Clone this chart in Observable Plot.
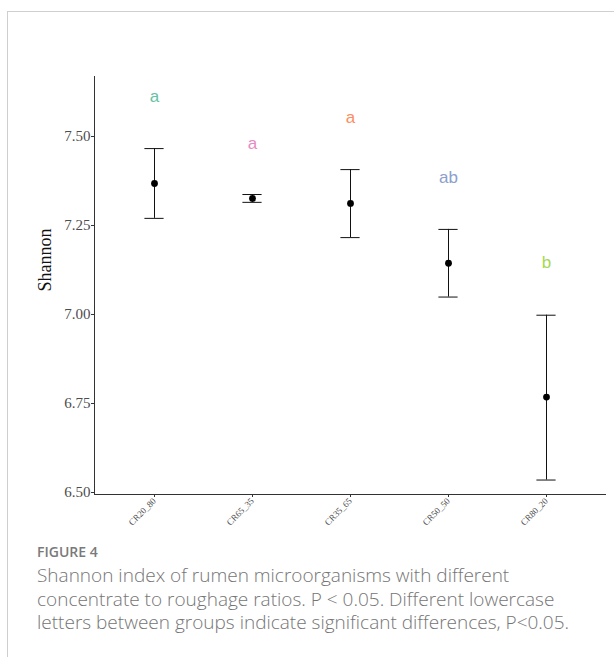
<!DOCTYPE html>
<html>
<head>
<meta charset="utf-8">
<script src="https://cdn.jsdelivr.net/npm/d3@7"></script>
<script src="https://cdn.jsdelivr.net/npm/@observablehq/plot@0.6"></script>
<style>
  html, body { margin: 0; padding: 0; background: #fff; width: 614px; height: 657px; overflow: hidden; }
  #frame { position: absolute; left: 7px; top: 11px; width: 640px; height: 680px;
           border-left: 1px solid #cfcfcf; border-top: 1px solid #cfcfcf; }
  #chart { position: absolute; left: 0; top: 0; }
  #caption { position: absolute; left: 37px; top: 542px; width: 550px;
             font-family: "Open Sans", "Noto Sans", sans-serif; color: #757575; }
  #caption .fig { font-size: 14px; font-weight: 600; color: #7a7a7a; margin-bottom: 3px; }
  #caption .txt { font-size: 19px; line-height: 23.5px; font-weight: 300; }
</style>
</head>
<body>
<div id="frame"></div>
<div id="chart"></div>
<div id="caption">
  <div class="fig">FIGURE 4</div>
  <div class="txt">Shannon index of rumen microorganisms with different concentrate to roughage ratios. P &lt; 0.05. Different lowercase letters between groups indicate significant differences, P&lt;0.05.</div>
</div>
<script>
const groups = ["CR20_80", "CR65_35", "CR35_65", "CR50_50", "CR80_20"];
const means  = [7.368, 7.326, 7.312, 7.144, 6.768];
const upper  = [7.466, 7.337, 7.407, 7.239, 6.998];
const lower  = [7.270, 7.315, 7.216, 7.049, 6.535];
const letters = ["a", "a", "a", "ab", "b"];
const letterY = [7.612, 7.481, 7.553, 7.386, 7.146];
const letterColors = ["#66C2A5", "#E78AC3", "#FC8D62", "#8DA0CB", "#A6D854"];
const yTicks = [6.5, 6.75, 7.0, 7.25, 7.5];
const yLabel = "Shannon";

const data = groups.map((g, i) => ({
  group: g, mean: means[i], hi: upper[i], lo: lower[i],
  letter: letters[i], ly: letterY[i], color: letterColors[i]
}));

const serif = "'Liberation Serif', 'Times New Roman', serif";

const plot = Plot.plot({
  width: 614,
  height: 530,
  marginLeft: 94,
  marginRight: 9,
  marginTop: 76,
  marginBottom: 36,
  style: { background: "transparent", overflow: "visible" },
  x: { type: "band", domain: groups, paddingInner: 0, paddingOuter: 0.1 },
  y: { domain: [6.4944, 7.6685] },
  color: { type: "identity" },
  marks: [
    Plot.frame({ anchor: "left", stroke: "#333", strokeWidth: 1 }),
    Plot.frame({ anchor: "bottom", stroke: "#333", strokeWidth: 1 }),
    Plot.axisY({
      ticks: yTicks, tickFormat: d3.format(".2f"), tickSize: 3, tickPadding: 1,
      stroke: "#333", fill: "#4d4d4d", fontSize: 15, fontFamily: serif, label: null
    }),
    Plot.axisX({
      tickSize: 3, tickPadding: 2, tickRotate: -45, stroke: "#333", fill: "#4d4d4d",
      fontSize: 9, fontFamily: serif, label: null
    }),
    Plot.text([yLabel], {
      frameAnchor: "left", dx: -49, dy: 6, rotate: -90, text: d => d,
      fontSize: 18, fontFamily: serif, fill: "#111"
    }),
    Plot.ruleX(data, { x: "group", y1: "lo", y2: "hi", stroke: "#111", strokeWidth: 1 }),
    Plot.tickY(data, { x: "group", y: "hi", stroke: "#111", strokeWidth: 1, insetLeft: 39.4, insetRight: 39.4 }),
    Plot.tickY(data, { x: "group", y: "lo", stroke: "#111", strokeWidth: 1, insetLeft: 39.4, insetRight: 39.4 }),
    Plot.dot(data, { x: "group", y: "mean", r: 3.4, fill: "#000", stroke: null }),
    Plot.text(data, {
      x: "group", y: "ly", text: "letter", fill: "color",
      fontSize: 17, fontFamily: "'Liberation Sans', Arial, sans-serif"
    })
  ]
});
document.getElementById("chart").appendChild(plot);
</script>
</body>
</html>
